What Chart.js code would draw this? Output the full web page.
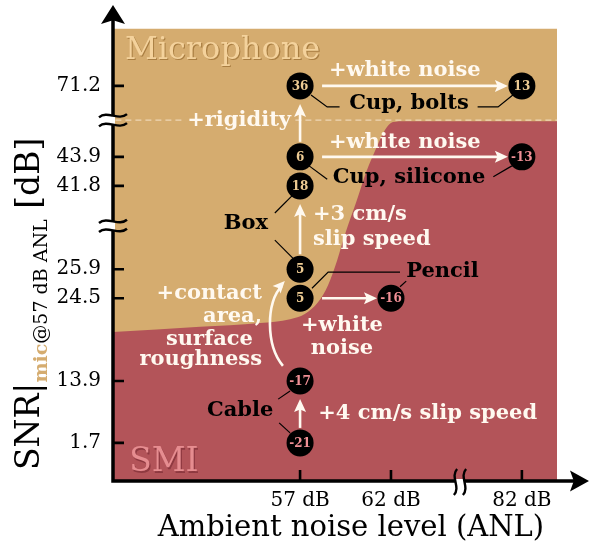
<!DOCTYPE html>
<html>
<head>
<meta charset="utf-8">
<script src="https://cdn.jsdelivr.net/npm/chart.js@4.4.0/dist/chart.umd.min.js"></script>
<style>html,body{margin:0;padding:0;background:#fff}</style>
</head>
<body>
<canvas id="chart" width="594" height="548"></canvas>
<script>
// ---- data ----
const anlLabels = ['57 dB', '62 dB', '82 dB'];
const snrLabels = ['1.7', '13.9', '24.5', '25.9', '41.8', '43.9', '71.2'];

const setups    = ['Cup, bolts', 'Cup, bolts', 'Cup, silicone', 'Cup, silicone', 'Box', 'Box', 'Pencil', 'Pencil', 'Cable', 'Cable'];
const pointAnl  = ['57 dB', '82 dB', '57 dB', '82 dB', '57 dB', '57 dB', '57 dB', '62 dB', '57 dB', '57 dB'];
const pointSnr  = ['71.2', '71.2', '43.9', '43.9', '41.8', '25.9', '24.5', '24.5', '13.9', '1.7'];
const pointGain = [36, 13, 6, -13, 18, 5, 5, -16, -17, -21];

// arrows between points (from index -> to index)
const arrows = [[0, 1], [2, 3], [6, 7], [2, 0], [5, 4], [9, 8]];

// SMI / microphone boundary (axis units)
const boundaryX = [0, 18.3, 30.9, 37.2, 40.3, 43.1, 45.2, 47.1, 48.9, 51.1, 53.2, 55.5, 57.1, 58.8, 61.3, 93.3];
const boundaryY = [31.3, 32.4, 33.2, 34.0, 35.1, 37.6, 41.2, 46.4, 52.3, 58.6, 64.9, 70.4, 73.7, 75.4, 75.6, 75.6];

// ---- layout of the broken axes (axis units 0..100) ----
const anlPos = { '57 dB': 39.3, '62 dB': 58.4, '82 dB': 85.9 };
const snrPos = { '1.7': 8.0, '13.9': 21.0, '24.5': 38.4, '25.9': 44.5, '41.8': 62.0, '43.9': 68.1, '71.2': 83.0 };
const yBreaks = [53.6, 75.8];
const xBreak = 72.9;
const plotRight = 93.3, plotTop = 95;

const FONT = '"DejaVu Serif", serif';
const TAN = '#D5AC6F', RED = '#B35459', INK = '#000', SNOW = '#FFF9F0';

const notes = [
    { t: '+white noise', x: 61.3, y: 86.3, c: SNOW },
    { t: 'Cup, bolts', x: 62.2, y: 79.4, c: INK },
    { t: '+white noise', x: 61.3, y: 71.2, c: SNOW },
    { t: 'Cup, silicone', x: 62.2, y: 63.7, c: INK },
    { t: '+rigidity', x: 26.5, y: 75.8, c: SNOW, bg: TAN },
    { t: 'Box', x: 27.9, y: 54.0, c: INK },
    { t: '+3 cm/s', x: 42.0, y: 55.9, c: SNOW, a: 'left' },
    { t: 'slip speed', x: 42.0, y: 50.8, c: SNOW, a: 'left' },
    { t: 'Pencil', x: 61.6, y: 44.1, c: INK, a: 'left' },
    { t: '+white', x: 48.1, y: 32.6, c: SNOW },
    { t: 'noise', x: 48.1, y: 27.9, c: SNOW },
    { t: '+contact', x: 31.3, y: 39.3, c: SNOW, a: 'right' },
    { t: 'area,', x: 31.3, y: 34.5, c: SNOW, a: 'right' },
    { t: 'surface', x: 29.4, y: 29.8, c: SNOW, a: 'right' },
    { t: 'roughness', x: 31.3, y: 25.6, c: SNOW, a: 'right' },
    { t: 'Cable', x: 26.7, y: 14.9, c: INK },
    { t: '+4 cm/s slip speed', x: 43.1, y: 14.1, c: SNOW, a: 'left' }
];

const leaders = [
    [[41.6, 81.1], [45.0, 78.6], [47.6, 78.6]],
    [[76.6, 78.6], [80.9, 78.6], [84.0, 81.1]],
    [[41.2, 66.2], [45.0, 63.4]],
    [[79.9, 63.9], [83.8, 66.2]],
    [[34.0, 56.3], [37.8, 60.1]],
    [[34.0, 50.6], [38.2, 46.4]],
    [[41.8, 40.5], [45.2, 43.9], [60.3, 43.9]],
    [[60.3, 40.8], [61.6, 42.0]],
    [[34.7, 17.2], [37.2, 18.9]],
    [[34.9, 12.2], [37.2, 10.1]]
];

const curved = [[35.7, 24.2], [32.1, 28.4], [32.1, 37.8], [36.1, 42.0]];

function head(ctx, x, y, ang, len, half, color) {
    ctx.save();
    ctx.translate(x, y);
    ctx.rotate(ang);
    ctx.fillStyle = color;
    ctx.beginPath();
    ctx.moveTo(0, 0);
    ctx.lineTo(-len, -half);
    ctx.lineTo(-len * 0.8, 0);
    ctx.lineTo(-len, half);
    ctx.closePath();
    ctx.fill();
    ctx.restore();
}

function tilde(ctx, x, y, w, h, vertical) {
    ctx.beginPath();
    if (!vertical) {
        ctx.moveTo(x - w, y + h * 0.4);
        ctx.bezierCurveTo(x - w * 0.4, y - h * 1.4, x + w * 0.4, y + h * 1.4, x + w, y - h * 0.4);
    } else {
        ctx.moveTo(x + h * 0.4, y - w);
        ctx.bezierCurveTo(x - h * 1.4, y - w * 0.4, x + h * 1.4, y + w * 0.4, x - h * 0.4, y + w);
    }
    ctx.stroke();
}

const decor = {
    id: 'decor',
    beforeDatasetDraw(chart, args) {
        if (args.index !== 0) return;
        const ctx = chart.ctx;
        const X = v => chart.scales.x.getPixelForValue(v);
        const Y = v => chart.scales.y.getPixelForValue(v);
        const pts = chart.getDatasetMeta(0).data;
        ctx.save();

        // region names
        ctx.textBaseline = 'middle';
        ctx.textAlign = 'left';
        ctx.font = '32px ' + FONT;
        ctx.fillStyle = '#A97E42';
        ctx.fillText('Microphone', X(2.5) + 1.2, Y(90.5) + 1.2);
        ctx.fillStyle = '#F4D29C';
        ctx.fillText('Microphone', X(2.5), Y(90.5));
        ctx.font = '33px ' + FONT;
        ctx.fillStyle = '#8E3940';
        ctx.fillText('SMI', X(3.4) + 1.2, Y(3.8) + 1.2);
        ctx.fillStyle = '#E68D90';
        ctx.fillText('SMI', X(3.4), Y(3.8));

        // dashed line at the axis break
        ctx.setLineDash([6, 4]);
        ctx.strokeStyle = 'rgba(255,244,228,0.6)';
        ctx.lineWidth = 1.3;
        ctx.beginPath();
        ctx.moveTo(X(0.5), Y(yBreaks[1]));
        ctx.lineTo(X(plotRight), Y(yBreaks[1]));
        ctx.stroke();
        ctx.setLineDash([]);

        // leader lines
        ctx.strokeStyle = INK;
        ctx.lineWidth = 1.2;
        leaders.forEach(l => {
            ctx.beginPath();
            l.forEach((p, i) => i ? ctx.lineTo(X(p[0]), Y(p[1])) : ctx.moveTo(X(p[0]), Y(p[1])));
            ctx.stroke();
        });

        // straight arrows
        ctx.strokeStyle = SNOW;
        ctx.lineWidth = 2.6;
        arrows.forEach(([a, b]) => {
            const p = pts[a], q = pts[b];
            const dx = q.x - p.x, dy = q.y - p.y, d = Math.hypot(dx, dy);
            const ux = dx / d, uy = dy / d;
            const horiz = Math.abs(dx) > Math.abs(dy);
            const s0 = horiz ? 22 : 15, s1 = horiz ? 14 : 18;
            const x0 = p.x + ux * s0, y0 = p.y + uy * s0;
            const x1 = q.x - ux * s1, y1 = q.y - uy * s1;
            ctx.beginPath();
            ctx.moveTo(x0, y0);
            ctx.lineTo(x1 - ux * 8, y1 - uy * 8);
            ctx.stroke();
            head(ctx, x1, y1, Math.atan2(uy, ux), 13, 6, SNOW);
        });

        // curved arrow
        const c = curved.map(p => [X(p[0]), Y(p[1])]);
        ctx.beginPath();
        ctx.moveTo(c[0][0], c[0][1]);
        ctx.bezierCurveTo(c[1][0], c[1][1], c[2][0], c[2][1], c[3][0] - 3, c[3][1] + 5);
        ctx.stroke();
        head(ctx, c[3][0], c[3][1], Math.atan2(c[3][1] - c[2][1], c[3][0] - c[2][0]), 12, 5.5, SNOW);

        // annotation text
        ctx.font = 'bold 21px ' + FONT;
        notes.forEach(n => {
            ctx.textAlign = n.a || 'center';
            const x = X(n.x), y = Y(n.y);
            if (n.bg) {
                const w = ctx.measureText(n.t).width;
                ctx.fillStyle = n.bg;
                ctx.fillRect(x - w / 2 - 3, y - 4, w + 6, 8);
            }
            ctx.fillStyle = n.c;
            ctx.fillText(n.t, x, y);
        });
        ctx.restore();
    },
    afterDatasetsDraw(chart) {
        const ctx = chart.ctx;
        const pts = chart.getDatasetMeta(0).data;
        ctx.save();
        ctx.font = 'bold 12px ' + FONT;
        ctx.textAlign = 'center';
        ctx.textBaseline = 'middle';
        pts.forEach((p, i) => {
            ctx.fillStyle = pointGain[i] >= 0 ? '#EDCB93' : '#F08F95';
            ctx.fillText(String(pointGain[i]), p.x, p.y + 1);
        });
        ctx.restore();
    },
    afterDraw(chart) {
        const ctx = chart.ctx;
        const xs = chart.scales.x, ys = chart.scales.y;
        const X = v => xs.getPixelForValue(v);
        const Y = v => ys.getPixelForValue(v);
        const a = chart.chartArea;
        ctx.save();
        ctx.strokeStyle = INK;
        ctx.fillStyle = INK;

        // axes with arrow heads
        ctx.lineWidth = 3.5;
        ctx.beginPath();
        ctx.moveTo(a.left, a.bottom + 1.7);
        ctx.lineTo(a.left, a.top + 15);
        ctx.moveTo(a.left - 1.7, a.bottom);
        ctx.lineTo(a.right - 15, a.bottom);
        ctx.stroke();
        head(ctx, a.left, a.top, -Math.PI / 2, 19, 12, INK);
        head(ctx, a.right, a.bottom, 0, 19, 10.5, INK);

        // inward tick marks
        ctx.lineWidth = 2.6;
        ctx.beginPath();
        snrLabels.forEach(l => { ctx.moveTo(a.left, Y(snrPos[l])); ctx.lineTo(a.left + 11, Y(snrPos[l])); });
        anlLabels.forEach(l => { ctx.moveTo(X(anlPos[l]), a.bottom); ctx.lineTo(X(anlPos[l]), a.bottom - 11); });
        ctx.stroke();

        // axis break marks
        ctx.lineWidth = 2.4;
        yBreaks.forEach(b => {
            const y = Y(b);
            ctx.fillStyle = '#fff';
            ctx.fillRect(a.left - 2, y - 4, 4, 8);
            tilde(ctx, a.left, y - 4.5, 14, 4, false);
            tilde(ctx, a.left, y + 4.5, 14, 4, false);
        });
        {
            const x = X(xBreak);
            ctx.fillStyle = '#fff';
            ctx.fillRect(x - 4, a.bottom - 2, 8, 4);
            tilde(ctx, x - 4.5, a.bottom + 1, 13, 4, true);
            tilde(ctx, x + 4.5, a.bottom + 1, 13, 4, true);
        }

        // y-axis title, reading upwards from the bottom
        ctx.translate(28, 470);
        ctx.rotate(-Math.PI / 2);
        ctx.textBaseline = 'alphabetic';
        ctx.textAlign = 'left';
        const parts = [
            { t: 'SNR', f: '33px ' + FONT, c: INK, dy: 0 },
            { t: '|', f: '33px ' + FONT, c: INK, dy: 0 },
            { t: 'mic', f: 'bold 19px ' + FONT, c: TAN, dy: 8 },
            { t: '@57 dB ANL', f: '19px ' + FONT, c: INK, dy: 8 },
            { t: ' [dB]', f: '33px ' + FONT, c: INK, dy: 0 }
        ];
        let cx = 0;
        parts.forEach(p => {
            ctx.font = p.f;
            ctx.fillStyle = p.c;
            ctx.fillText(p.t, cx, 11 + p.dy);
            cx += ctx.measureText(p.t).width;
        });
        ctx.restore();
    }
};

const points = pointAnl.map((a, i) => ({ x: anlPos[a], y: snrPos[pointSnr[i]], setup: setups[i] }));

new Chart(document.getElementById('chart').getContext('2d'), {
    type: 'scatter',
    data: {
        datasets: [
            {
                label: 'Setups',
                data: points,
                pointRadius: 13.5,
                pointHoverRadius: 13.5,
                backgroundColor: INK,
                borderWidth: 0,
                order: 0
            },
            {
                label: 'SMI',
                type: 'line',
                data: boundaryX.map((x, i) => ({ x: x, y: boundaryY[i] })),
                fill: 'origin',
                backgroundColor: RED,
                borderWidth: 0,
                pointRadius: 0,
                cubicInterpolationMode: 'monotone',
                order: 1
            },
            {
                label: 'Microphone',
                type: 'line',
                data: [{ x: 0, y: plotTop }, { x: plotRight, y: plotTop }],
                fill: 'origin',
                backgroundColor: TAN,
                borderWidth: 0,
                pointRadius: 0,
                order: 2
            }
        ]
    },
    options: {
        responsive: false,
        animation: false,
        devicePixelRatio: 1,
        events: [],
        layout: { autoPadding: false, padding: { top: 5, right: 5, left: 0, bottom: 0 } },
        plugins: { legend: { display: false }, tooltip: { enabled: false } },
        scales: {
            x: {
                type: 'linear',
                min: 0,
                max: 100,
                grid: { display: false, drawTicks: false },
                border: { display: false },
                afterBuildTicks: s => { s.ticks = anlLabels.map(l => ({ value: anlPos[l] })); },
                afterFit: s => { s.height = 67; s.paddingLeft = 0; s.paddingRight = 0; },
                ticks: {
                    callback: v => anlLabels.find(l => anlPos[l] === v),
                    font: { family: FONT, size: 20 },
                    color: INK,
                    padding: 8,
                    maxRotation: 0,
                    autoSkip: false
                },
                title: {
                    display: true,
                    text: 'Ambient noise level (ANL)',
                    font: { family: FONT, size: 29 },
                    color: INK,
                    padding: { top: 0, bottom: 2 }
                }
            },
            y: {
                type: 'linear',
                min: 0,
                max: 100,
                grid: { display: false, drawTicks: false },
                border: { display: false },
                afterBuildTicks: s => { s.ticks = snrLabels.map(l => ({ value: snrPos[l] })); },
                afterFit: s => { s.width = 113; s.paddingTop = 0; s.paddingBottom = 0; },
                ticks: {
                    callback: v => snrLabels.find(l => snrPos[l] === v),
                    font: { family: FONT, size: 20 },
                    color: INK,
                    padding: 12,
                    autoSkip: false
                }
            }
        }
    },
    plugins: [decor]
});
</script>
</body>
</html>
